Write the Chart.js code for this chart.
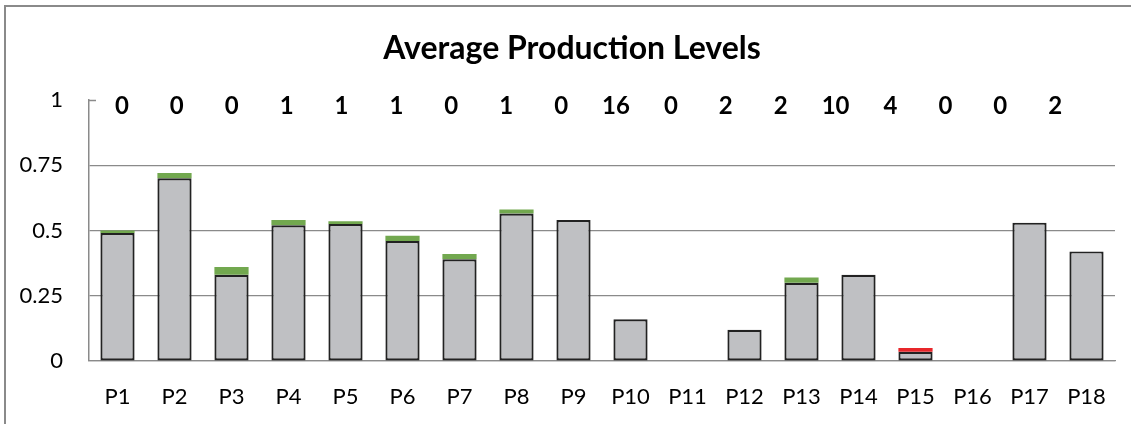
<!DOCTYPE html>
<html>
<head>
<meta charset="utf-8">
<script src="https://cdn.jsdelivr.net/npm/chart.js@4/dist/chart.umd.min.js"></script>
<style>
  html, body { margin: 0; padding: 0; background: #fff; }
  #wrap { position: relative; width: 1131px; height: 424px; overflow: hidden; }
  #frame { position: absolute; left: 4px; top: 5px; right: -10px; bottom: -10px;
           border-top: 2px solid #8a8a8a; border-left: 2px solid #8a8a8a; pointer-events: none; }
  canvas { position: absolute; left: 0; top: 0; }
</style>
</head>
<body>
<div id="wrap">
  <canvas id="chart" width="1131" height="424"></canvas>
  <div id="frame"></div>
</div>
<script>
// Products and their average production levels
const categories = ['P1','P2','P3','P4','P5','P6','P7','P8','P9','P10','P11','P12','P13','P14','P15','P16','P17','P18'];
const levels = [0.49, 0.70, 0.33, 0.52, 0.525, 0.46, 0.39, 0.565, 0.54, 0.16, 0, 0.12, 0.30, 0.33, 0.035, 0, 0.53, 0.42];
// Increase (green) and decrease (red) shown as caps on top of each bar
const gains = [0.01, 0.02, 0.03, 0.02, 0.01, 0.02, 0.02, 0.015, null, null, null, null, 0.02, null, null, null, null, null];
const drops = [null, null, null, null, null, null, null, null, null, null, null, null, null, null, 0.015, null, null, null];
// Counts printed along the top row
const counts = [0, 0, 0, 1, 1, 1, 0, 1, 0, 16, 0, 2, 2, 10, 4, 0, 0, 2];
const yTicks = [0, 0.25, 0.5, 0.75, 1];
const titleText = 'Average Production Levels';

const FONT = "Lato, 'Open Sans', sans-serif";
const GRID = '#8a8a8a';

// Title, the counts above the plot and the short tick at the top of the axis
const topRow = {
  id: 'topRow',
  afterDatasetsDraw(chart) {
    const { ctx, chartArea, scales } = chart;
    const meta = chart.getDatasetMeta(3);
    ctx.save();
    ctx.fillStyle = '#000';
    ctx.textAlign = 'center';
    ctx.textBaseline = 'middle';
    ctx.font = "bold 32px " + FONT;
    ctx.fillText(titleText, 572, 49);
    ctx.font = "bold 24px " + FONT;
    meta.data.forEach((pt, i) => {
      ctx.fillText(String(counts[i]), pt.x, pt.y + 6);
    });
    const y1 = Math.round(scales.y.getPixelForValue(1)) + 0.5;
    ctx.strokeStyle = GRID;
    ctx.lineWidth = 1.5;
    ctx.beginPath();
    ctx.moveTo(chartArea.left, y1);
    ctx.lineTo(chartArea.left + 7, y1);
    ctx.stroke();
    ctx.restore();
  }
};

const barCommon = { stack: 's', grouped: false, categoryPercentage: 1, barPercentage: 0.6 };

new Chart(document.getElementById('chart'), {
  data: {
    labels: categories,
    datasets: [
      Object.assign({
        type: 'bar', label: 'Level', data: levels,
        backgroundColor: '#bfc0c3', borderColor: '#222222', borderWidth: 2.2,
        borderSkipped: false
      }, barCommon),
      Object.assign({
        type: 'bar', label: 'Increase', data: gains,
        backgroundColor: '#72a84f', borderWidth: 0
      }, barCommon),
      Object.assign({
        type: 'bar', label: 'Decrease', data: drops,
        backgroundColor: '#e8262a', borderWidth: 0
      }, barCommon),
      {
        type: 'line', label: 'Count', stack: 'c', xAxisID: 'xc',
        data: counts.map((c, i) => ({ x: i, y: 1 })),
        showLine: false, pointRadius: 0, pointHoverRadius: 0
      }
    ]
  },
  options: {
    responsive: false,
    animation: false,
    events: [],
    layout: { padding: { left: 0, right: 16, top: 100, bottom: 17 } },
    plugins: {
      legend: { display: false },
      tooltip: { enabled: false },
      title: { display: false }
    },
    scales: {
      x: {
        type: 'category', stacked: true, offset: true,
        afterFit(scale) { scale.height = 46; },
        grid: { display: false, drawTicks: false },
        border: { display: true, color: GRID, width: 1.3 },
        ticks: { color: '#000', font: { family: FONT, size: 22 }, padding: 23 }
      },
      xc: {
        type: 'linear', display: false, min: -0.6, max: 18.09
      },
      y: {
        type: 'linear', stacked: true, min: 0, max: 1,
        afterBuildTicks(scale) { scale.ticks = yTicks.map(v => ({ value: v })); },
        afterFit(scale) { scale.width = 89; },
        grid: {
          drawTicks: false,
          color: (c) => (c.tick && c.tick.value === 1) ? 'rgba(0,0,0,0)' : GRID,
          lineWidth: 1.2
        },
        border: { display: true, color: GRID, width: 1.5 },
        ticks: {
          color: '#000', font: { family: FONT, size: 22 }, padding: 26,
          callback: (v) => String(v)
        }
      }
    }
  },
  plugins: [topRow]
});
</script>
</body>
</html>
